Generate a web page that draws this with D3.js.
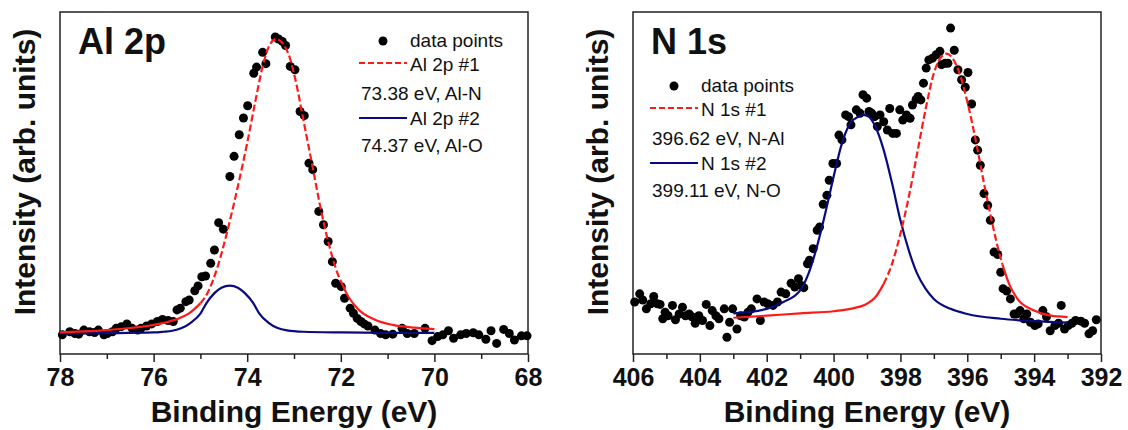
<!DOCTYPE html>
<html>
<head>
<meta charset="utf-8">
<script src="https://cdn.jsdelivr.net/npm/d3@7"></script>
<style>
	body { margin: 0; background: #fff; }
	svg { display: block; }
	text { font-family: "Liberation Sans", Arial, sans-serif; fill: #111; }
</style>
</head>
<body>
<div id="wrapper"></div>
<script>

// 1. Data (binding energy in eV, intensity in arb. units)

const alPoints = [
	[77.95,0.056],[77.79,0.065],[77.68,0.060],[77.60,0.058],[77.49,0.070],[77.37,0.065],[77.26,0.063],[77.18,0.070],
	[77.06,0.056],[76.99,0.060],[76.88,0.065],[76.80,0.075],[76.69,0.080],[76.57,0.088],[76.46,0.075],[76.34,0.070],
	[76.27,0.075],[76.15,0.082],[76.04,0.088],[75.92,0.095],[75.81,0.101],[75.69,0.098],[75.58,0.095],[75.50,0.129],
	[75.43,0.134],[75.31,0.153],[75.24,0.158],[75.12,0.185],[75.05,0.199],[74.97,0.226],[74.89,0.228],[74.78,0.265],
	[74.70,0.304],[74.61,0.384],[74.51,0.365],[74.37,0.519],[74.28,0.578],[74.17,0.641],[74.08,0.690],[73.99,0.726],
	[73.86,0.821],[73.80,0.839],[73.67,0.882],[73.60,0.849],[73.40,0.927],[73.33,0.921],[73.25,0.914],[73.18,0.902],
	[73.08,0.841],[72.98,0.831],[72.87,0.709],[72.78,0.697],[72.68,0.558],[72.60,0.539],[72.47,0.417],[72.37,0.378],
	[72.27,0.329],[72.18,0.270],[72.11,0.207],[71.99,0.197],[71.92,0.163],[71.80,0.134],[71.73,0.119],[71.65,0.104],
	[71.57,0.095],[71.50,0.088],[71.42,0.082],[71.27,0.070],[71.15,0.060],[71.04,0.056],[70.89,0.058],[70.69,0.075],
	[70.58,0.060],[70.43,0.060],[70.20,0.075],[70.05,0.039],[69.93,0.051],[69.82,0.056],[69.70,0.068],[69.59,0.046],
	[69.44,0.056],[69.32,0.060],[69.17,0.062],[69.05,0.056],[68.90,0.043],[68.79,0.068],[68.67,0.031],[68.52,0.072],
	[68.40,0.060],[68.29,0.041],[68.14,0.053],[68.02,0.053]
];

const alFit1 = [
	[78.0,0.063],[77.5,0.066],[77.0,0.070],[76.5,0.076],[76.0,0.085],[75.75,0.092],[75.5,0.102],[75.25,0.118],
	[75.0,0.148],[74.85,0.178],[74.63,0.256],[74.4,0.373],[74.2,0.49],[74.0,0.617],[73.82,0.743],[73.67,0.841],
	[73.52,0.904],[73.38,0.921],[73.25,0.910],[73.1,0.870],[72.95,0.790],[72.8,0.685],[72.6,0.545],[72.41,0.412],
	[72.26,0.324],[72.07,0.236],[71.95,0.199],[71.88,0.178],[71.65,0.134],[71.27,0.100],[70.89,0.085],[70.43,0.077],
	[70.0,0.073]
];

const alFit2 = [
	[78.0,0.060],[77.0,0.061],[76.0,0.063],[75.8,0.065],[75.6,0.068],[75.4,0.076],[75.2,0.092],[75.0,0.118],
	[74.87,0.149],[74.7,0.178],[74.55,0.194],[74.37,0.200],[74.2,0.194],[74.05,0.178],[73.87,0.149],[73.74,0.118],
	[73.55,0.092],[73.35,0.076],[73.15,0.069],[72.8,0.065],[72.0,0.063],[71.0,0.062],[70.0,0.062]
];

const nPoints = [
	[405.95,0.152],[405.80,0.176],[405.71,0.158],[405.60,0.132],[405.47,0.147],[405.38,0.168],[405.27,0.147],[405.19,0.145],
	[405.11,0.103],[405.04,0.122],[404.95,0.112],[404.82,0.142],[404.73,0.100],[404.62,0.117],[404.52,0.137],[404.43,0.112],
	[404.32,0.117],[404.24,0.109],[404.14,0.090],[404.03,0.112],[403.92,0.098],[403.81,0.145],[403.70,0.083],[403.63,0.127],
	[403.52,0.112],[403.43,0.103],[403.27,0.132],[403.19,0.049],[403.11,0.093],[403.02,0.132],[402.89,0.073],[402.78,0.112],
	[402.67,0.108],[402.56,0.122],[402.46,0.132],[402.29,0.161],[402.19,0.098],[402.08,0.152],[401.97,0.147],[401.81,0.142],
	[401.68,0.152],[401.57,0.181],[401.43,0.176],[401.27,0.207],[401.16,0.196],[401.05,0.220],[400.96,0.200],[400.89,0.194],
	[400.78,0.264],[400.72,0.274],[400.61,0.308],[400.49,0.362],[400.42,0.371],[400.31,0.438],[400.20,0.464],[400.13,0.508],
	[400.02,0.557],[399.91,0.557],[399.84,0.640],[399.75,0.626],[399.64,0.699],[399.55,0.694],[399.48,0.670],[399.32,0.714],
	[399.21,0.704],[399.12,0.758],[399.01,0.748],[398.94,0.709],[398.86,0.704],[398.77,0.694],[398.69,0.665],[398.61,0.699],
	[398.50,0.679],[398.39,0.655],[398.32,0.718],[398.23,0.645],[398.12,0.645],[398.02,0.714],[397.93,0.684],[397.82,0.699],
	[397.71,0.689],[397.64,0.728],[397.53,0.745],[397.47,0.753],[397.39,0.743],[397.31,0.792],[397.23,0.836],[397.15,0.860],
	[397.04,0.865],[396.93,0.875],[396.82,0.885],[396.77,0.846],[396.66,0.850],[396.58,0.850],[396.50,0.953],[396.39,0.888],
	[396.28,0.831],[396.17,0.802],[396.06,0.780],[395.98,0.823],[395.87,0.731],[395.76,0.626],[395.69,0.596],[395.61,0.552],
	[395.50,0.469],[395.39,0.435],[395.31,0.391],[395.20,0.298],[395.09,0.291],[395.00,0.239],[394.93,0.191],[394.82,0.184],
	[394.71,0.161],[394.60,0.117],[394.53,0.117],[394.42,0.127],[394.31,0.103],[394.22,0.117],[394.11,0.093],[393.98,0.083],
	[393.88,0.088],[393.74,0.127],[393.63,0.109],[393.52,0.068],[393.38,0.083],[393.27,0.090],[393.19,0.142],[393.09,0.073],
	[392.98,0.083],[392.87,0.090],[392.76,0.098],[392.60,0.096],[392.49,0.090],[392.36,0.059],[392.25,0.068],[392.14,0.100]
];

const nFit1 = [
	[403,0.106],[402,0.112],[401,0.119],[400,0.125],[399.5,0.132],[399,0.147],[398.75,0.166],[398.5,0.205],
	[398.25,0.264],[398,0.352],[397.75,0.459],[397.5,0.586],[397.25,0.714],[397,0.821],[396.8,0.866],[396.62,0.878],
	[396.45,0.866],[396.25,0.826],[396,0.738],[395.75,0.626],[395.5,0.499],[395.25,0.381],[395,0.279],[394.95,0.262],
	[394.75,0.205],[394.5,0.161],[394,0.127],[393.5,0.112],[393,0.108]
];

const nFit2 = [
	[403,0.119],[402,0.132],[401.5,0.152],[401,0.186],[400.75,0.235],[400.5,0.313],[400.25,0.411],[400,0.518],
	[399.75,0.616],[399.5,0.675],[399.25,0.694],[399.11,0.699],[398.95,0.694],[398.75,0.665],[398.5,0.596],[398.25,0.499],
	[398,0.391],[397.75,0.303],[397.5,0.235],[397.25,0.191],[397,0.161],[396.5,0.132],[396,0.117],[395,0.103],
	[394,0.096],[393,0.092]
];

const alTicks = [78, 76, 74, 72, 70, 68];
const nTicks = [406, 404, 402, 400, 398, 396, 394, 392];

const panels = [
	{
		title: "Al 2p", points: alPoints, fit1: alFit1, fit2: alFit2,
		domain: [78, 68], ticks: alTicks, dashed: [71.95, 75.0],
		legend: ["data points", "Al 2p #1", "73.38 eV, Al-N", "Al 2p #2", "74.37 eV, Al-O"],
		left: 60, legendX: 299, legendY: 0
	},
	{
		title: "N 1s", points: nPoints, fit1: nFit1, fit2: nFit2,
		domain: [406, 392], ticks: nTicks, dashed: [394.95, 398.5],
		legend: ["data points", "N 1s #1", "396.62 eV, N-Al", "N 1s #2", "399.11 eV, N-O"],
		left: 633, legendX: 17, legendY: 45
	}
];

// 2. Dimensions

const width = 1128;
const height = 430;
const frameW = 468;
const frameTop = 12;
const frameBottom = 354;
const red = "#ff1a1a";
const blue = "#0a0a80";

// 3. Canvas

const svg = d3.select("#wrapper")
	.append("svg")
	.attr("width", width)
	.attr("height", height);

svg.append("rect").attr("width", width).attr("height", height).attr("fill", "#fff");

// 4. Panels

panels.forEach(p => {
	const left = p.left;
	const right = left + frameW;

	const x = d3.scaleLinear().domain(p.domain).range([left, right]);
	const y = d3.scaleLinear().domain([0, 1]).range([frameBottom, frameTop]);

	const g = svg.append("g");

	// minor ticks
	const minor = d3.range(p.domain[1] + 1, p.domain[0], 2);
	g.append("g")
		.attr("transform", `translate(0,${frameBottom})`)
		.call(d3.axisBottom(x).tickValues(minor).tickSize(5).tickFormat(""))
		.call(a => a.select(".domain").remove())
		.selectAll("line").attr("stroke", "#222").attr("stroke-width", 1.5);

	// major ticks + labels
	const axis = g.append("g")
		.attr("transform", `translate(0,${frameBottom})`)
		.call(d3.axisBottom(x).tickValues(p.ticks).tickSize(8).tickPadding(6).tickFormat(d3.format("d")));
	axis.select(".domain").remove();
	axis.selectAll("line").attr("stroke", "#222").attr("stroke-width", 1.5);
	axis.selectAll("text")
		.attr("fill", "#111")
		.style("font-size", "25px")
		.style("font-weight", "bold")
		.style("font-family", "'Liberation Sans', Arial, sans-serif");

	// frame
	g.append("rect")
		.attr("x", left).attr("y", frameTop)
		.attr("width", frameW).attr("height", frameBottom - frameTop)
		.attr("fill", "none").attr("stroke", "#222").attr("stroke-width", 1.5);

	// data points
	g.selectAll(".dot")
		.data(p.points)
		.enter()
		.append("circle")
		.attr("class", "dot")
		.attr("cx", d => x(d[0]))
		.attr("cy", d => y(d[1]))
		.attr("r", 4.5)
		.attr("fill", "#000");

	const line = d3.line().x(d => x(d[0])).y(d => y(d[1])).curve(d3.curveMonotoneX);

	// fit #2 (solid blue)
	g.append("path")
		.attr("d", line(p.fit2))
		.attr("fill", "none").attr("stroke", blue).attr("stroke-width", 2.2);

	// fit #1: solid tails, dashed centre
	const [lo, hi] = p.dashed;
	const segs = [
		{ data: p.fit1.filter(d => d[0] >= hi), dash: null },
		{ data: p.fit1.filter(d => d[0] <= hi && d[0] >= lo), dash: "7,3" },
		{ data: p.fit1.filter(d => d[0] <= lo), dash: null }
	];
	segs.forEach(s => {
		g.append("path")
			.attr("d", line(s.data))
			.attr("fill", "none").attr("stroke", red).attr("stroke-width", 2.2)
			.attr("stroke-dasharray", s.dash);
	});

	// panel title
	g.append("text")
		.attr("x", left + 18).attr("y", 54)
		.style("font-size", "36px").style("font-weight", "bold")
		.text(p.title);

	// legend
	const lx = left + p.legendX;
	const ly = p.legendY;
	const leg = g.append("g").style("font-size", "19px");
	leg.append("circle").attr("cx", lx + 24).attr("cy", ly + 41).attr("r", 4.5).attr("fill", "#000");
	leg.append("text").attr("x", lx + 51).attr("y", ly + 47).text(p.legend[0]);
	leg.append("line").attr("x1", lx).attr("x2", lx + 48).attr("y1", ly + 63).attr("y2", ly + 63)
		.attr("stroke", red).attr("stroke-width", 2.2).attr("stroke-dasharray", "6,3");
	leg.append("text").attr("x", lx + 51).attr("y", ly + 71).text(p.legend[1]);
	leg.append("text").attr("x", lx + 2).attr("y", ly + 100).text(p.legend[2]);
	leg.append("line").attr("x1", lx).attr("x2", lx + 48).attr("y1", ly + 118).attr("y2", ly + 118)
		.attr("stroke", blue).attr("stroke-width", 2.2);
	leg.append("text").attr("x", lx + 51).attr("y", ly + 125).text(p.legend[3]);
	leg.append("text").attr("x", lx + 2).attr("y", ly + 152).text(p.legend[4]);

	// axis titles
	g.append("text")
		.attr("x", (left + right) / 2).attr("y", 422)
		.attr("text-anchor", "middle")
		.style("font-size", "30px").style("font-weight", "bold")
		.text("Binding Energy (eV)");

	g.append("text")
		.attr("transform", `translate(${left - 25},172) rotate(-90)`)
		.attr("text-anchor", "middle")
		.style("font-size", "30px").style("font-weight", "bold")
		.text("Intensity (arb. units)");
});

</script>
</body>
</html>
